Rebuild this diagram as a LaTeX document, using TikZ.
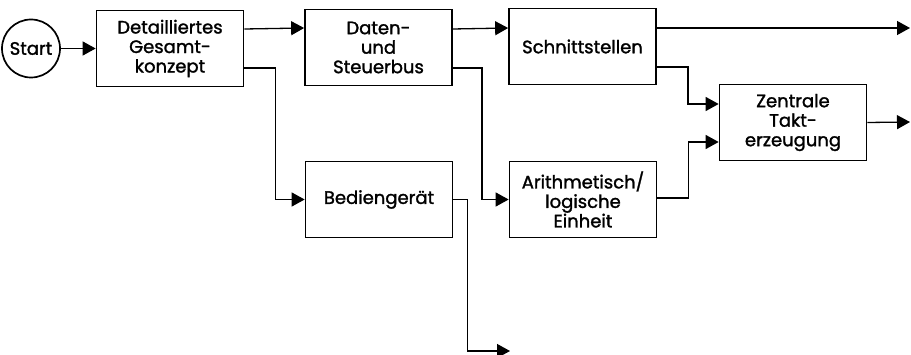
\documentclass[tikz,border=0pt]{standalone}
\usepackage{fontspec}
\setmainfont{Poppins}[FakeBold=1.5]
\usetikzlibrary{arrows.meta}
\begin{document}
\begin{tikzpicture}[x=1pt,y=-1pt,
  txt/.style={font=\fontsize{18}{19.5}\selectfont},
  blk/.style={draw,line width=1.7pt,minimum width=147pt,minimum height=76pt,inner sep=0pt,align=center,txt},
  startc/.style={draw,circle,line width=1.7pt,minimum size=58pt,inner sep=0pt,txt},
  arr/.style={line width=1.3pt,-{Triangle[length=13pt,width=14pt]}}]
\useasboundingbox (0,0) rectangle (911,355);
\node[startc] (start) at (31,48.5) {Start};
\node[blk] (detail) at (170,48.5) {Detailliertes\\Gesamt-\\konzept};
\node[blk] (daten) at (378.5,47.5) {Daten-\\und\\Steuerbus};
\node[blk] (schnitt) at (582.5,46.5) {Schnittstellen};
\node[blk] (zentrale) at (793,122.5) {Zentrale\\Takt-\\erzeugung};
\node[blk] (bedien) at (379,199.5) {Bediengerät};
\node[blk] (arith) at (583,199.5) {Arithmetisch/\\logische\\Einheit};
\coordinate (outA) at (910,28);
\coordinate (outB) at (910,122);
\coordinate (outC) at (510,351);
\draw[arr] (start) -- (detail);
\draw[arr] ([yshift=19.5pt]detail.east) -- ([yshift=19.5pt]daten.west);
\draw[arr] ([yshift=-19.5pt]detail.east) -- ++(31,0) |- (bedien.west);
\draw[arr] ([yshift=18.5pt]daten.east) -- ([yshift=18.5pt]schnitt.west);
\draw[arr] ([yshift=-20.5pt]daten.east) -- ++(29,0) |- (arith.west);
\draw[arr] ([yshift=18.5pt]schnitt.east) -- (outA);
\draw[arr] ([yshift=-20.5pt]schnitt.east) -- ++(31,0) |- ([yshift=18.5pt]zentrale.west);
\draw[arr] ([yshift=1.5pt]arith.east) -- ++(31,0) |- ([yshift=-19.5pt]zentrale.west);
\draw[arr] (zentrale.east) -- (outB);
\draw[arr] (bedien.east) -- ++(14,0) |- (outC);
\end{tikzpicture}
\end{document}
